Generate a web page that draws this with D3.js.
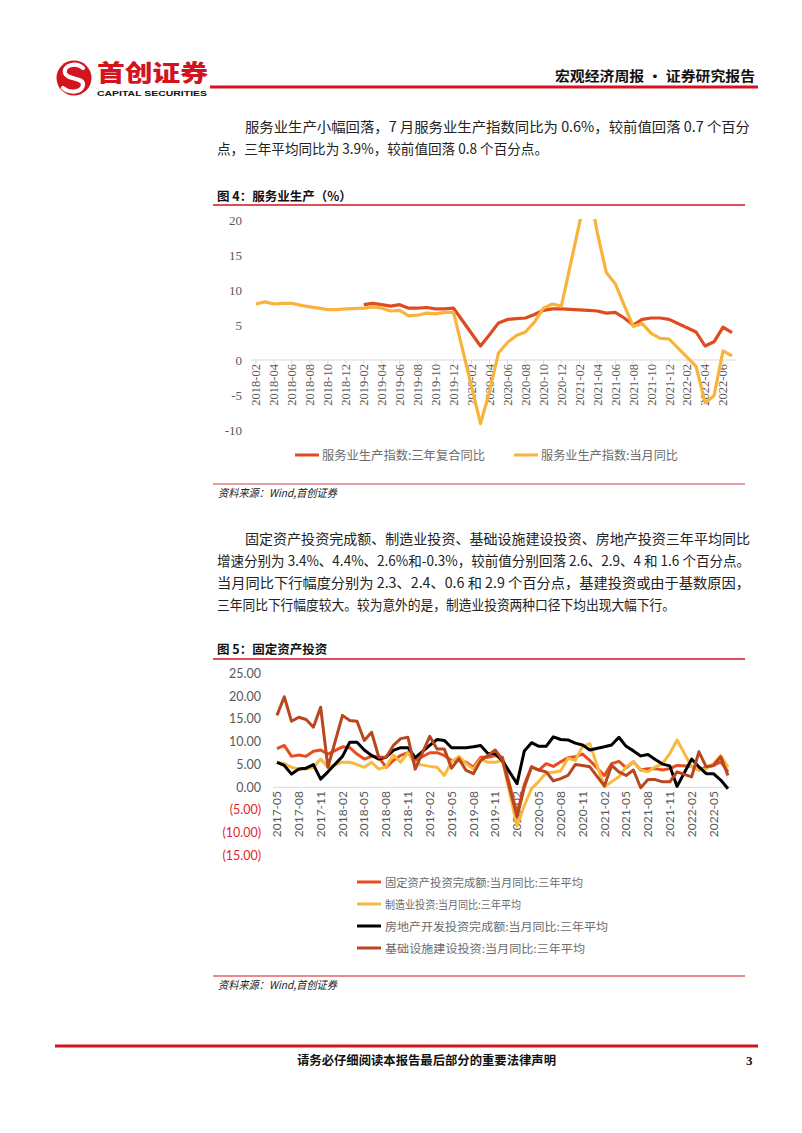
<!DOCTYPE html>
<html><head><meta charset="utf-8">
<script src="https://cdn.jsdelivr.net/npm/d3@7"></script>
<style>
html,body{margin:0;padding:0;background:#fff;}
svg{display:block;}
</style></head><body>
<svg id="page" width="802" height="1133"></svg>
<script>
// ---------------- DATA ----------------
// Figure 4: service production (%)
const svcMonths = ["2018-02","2018-03","2018-04","2018-05","2018-06","2018-07","2018-08","2018-09","2018-10","2018-11","2018-12",
"2019-01","2019-02","2019-03","2019-04","2019-05","2019-06","2019-07","2019-08","2019-09","2019-10","2019-11","2019-12",
"2020-01","2020-02","2020-03","2020-04","2020-05","2020-06","2020-07","2020-08","2020-09","2020-10","2020-11","2020-12",
"2021-01","2021-02","2021-03","2021-04","2021-05","2021-06","2021-07","2021-08","2021-09","2021-10","2021-11","2021-12",
"2022-01","2022-02","2022-03","2022-04","2022-05","2022-06","2022-07"];
const svcThreeYear = [null,null,null,null,null,null,null,null,null,null,null,
null,7.9,8.1,7.9,7.7,7.9,7.4,7.4,7.5,7.3,7.3,7.4,
null,null,2.0,3.6,5.3,5.8,5.9,6.0,6.5,7.1,7.3,7.3,
null,null,7.1,7.0,6.7,6.8,6.0,5.0,5.8,6.0,6.0,5.8,
null,null,4.0,2.0,2.6,4.7,3.9];
const svcMonthly = [8.0,8.3,8.0,8.1,8.1,7.8,7.6,7.4,7.2,7.2,7.3,
null,7.4,7.6,7.4,7.0,7.1,6.3,6.4,6.7,6.6,6.8,6.8,
null,null,-9.1,-4.5,1.0,2.5,3.5,4.0,5.4,7.4,8.0,7.7,
null,null,25.3,18.2,12.5,10.9,7.8,4.8,5.2,3.8,3.1,3.0,
null,null,-0.9,-6.1,-5.1,1.3,0.6];
const svcTicks = [20,15,10,5,0,-5,-10];
const svcLegend = ["服务业生产指数:三年复合同比","服务业生产指数:当月同比"];

// Figure 5: fixed asset investment
const faiMonths = ["2017-05","2017-06","2017-07","2017-08","2017-09","2017-10","2017-11","2017-12",
"2018-01","2018-02","2018-03","2018-04","2018-05","2018-06","2018-07","2018-08","2018-09","2018-10","2018-11","2018-12",
"2019-01","2019-02","2019-03","2019-04","2019-05","2019-06","2019-07","2019-08","2019-09","2019-10","2019-11","2019-12",
"2020-01","2020-02","2020-03","2020-04","2020-05","2020-06","2020-07","2020-08","2020-09","2020-10","2020-11","2020-12",
"2021-01","2021-02","2021-03","2021-04","2021-05","2021-06","2021-07","2021-08","2021-09","2021-10","2021-11","2021-12",
"2022-01","2022-02","2022-03","2022-04","2022-05","2022-06","2022-07"];
const faiTotal = [8.5,9.2,6.8,7.1,6.8,7.9,8.2,7.3,
null,8.9,8.7,7.3,6.2,6.8,6.6,4.4,5.9,7.0,7.6,5.9,
null,7.6,7.6,7.0,5.9,5.9,5.5,4.4,6.6,6.6,7.0,6.6,
null,-5.8,0.6,4.5,3.8,5.2,4.6,5.6,6.5,6.7,7.3,5.9,
null,2.6,5.2,5.7,4.3,5.6,3.8,4.1,4.1,3.8,4.1,4.8,
null,4.6,3.8,4.5,4.8,5.6,3.4];
const faiManufacturing = [5.5,5.2,4.4,4.0,4.0,4.4,6.2,4.4,
null,5.5,5.5,5.0,4.4,5.5,4.0,4.5,7.1,5.5,7.6,5.2,
null,4.6,4.4,2.6,5.6,6.8,5.2,4.0,6.2,5.5,5.5,5.9,
null,-8.5,-4.0,-0.3,1.3,3.2,3.3,3.6,6.4,5.9,9.0,9.6,
null,0.1,1.2,2.3,4.5,5.6,3.8,3.4,4.5,5.2,7.4,10.4,
null,4.5,3.8,4.1,5.2,7.0,4.4];
const faiRealEstate = [5.5,4.8,2.9,4.0,4.2,5.0,1.8,3.4,
null,6.8,9.9,9.9,8.2,7.0,6.2,6.6,8.1,8.7,8.7,6.5,
null,9.2,10.5,10.3,8.7,8.7,8.7,8.9,9.2,7.4,7.4,5.8,
null,0.8,8.0,9.8,9.0,9.0,11.1,10.5,10.4,9.7,9.3,8.2,
null,8.9,9.3,11.0,9.0,8.0,6.9,7.2,6.1,5.1,4.7,0.2,
null,6.2,4.5,3.0,3.0,1.6,-0.3];
const faiInfra = [15.8,19.9,14.5,15.4,14.9,13.2,17.6,4.4,
null,15.8,14.7,14.5,10.3,12.1,6.6,6.6,9.2,10.7,11.0,4.0,
null,11.2,8.4,8.4,4.2,6.3,3.7,3.0,5.9,7.0,8.2,6.0,
null,-6.5,0.0,4.5,3.8,3.4,1.4,1.9,2.6,5.0,4.8,4.5,
null,0.3,4.8,3.4,2.6,3.8,-0.1,1.7,1.7,1.2,1.2,3.4,
null,2.3,7.8,4.5,4.8,6.7,2.6];
const faiTicks = [25,20,15,10,5,0,-5,-10,-15];
const faiLegend = ["固定资产投资完成额:当月同比:三年平均","制造业投资:当月同比:三年平均","房地产开发投资完成额:当月同比:三年平均","基础设施建设投资:当月同比:三年平均"];

// ---------------- STYLE ----------------
const RED = "#d2141e";
const SERIF = "'Liberation Serif','Times New Roman',serif";
const CJK = "'Noto Sans CJK SC','Noto Sans',sans-serif";
const SANS = "Lato,'Open Sans',sans-serif";

const svg = d3.select("#page");

function txt(x, y, s, o = {}) {
  const t = svg.append("text").attr("x", x).attr("y", y).text(s)
    .attr("font-family", o.family || CJK)
    .attr("font-size", o.size || 14)
    .attr("fill", o.fill || "#222")
    .attr("font-weight", o.weight || "normal")
    .attr("text-anchor", o.anchor || "start");
  if (o.style) t.attr("font-style", o.style);
  if (o.len) t.attr("textLength", o.len).attr("lengthAdjust", "spacingAndGlyphs");
  return t;
}
function hline(x1, x2, y, color, w) {
  svg.append("line").attr("x1", x1).attr("x2", x2).attr("y1", y).attr("y2", y)
    .attr("stroke", color).attr("stroke-width", w);
}

// ---------------- HEADER ----------------
svg.append("circle").attr("cx", 74).attr("cy", 78).attr("r", 17.5).attr("fill", RED);
svg.append("path").attr("d", "M83,68 C76,62 63,65 65,73 C67,80 84,77 83,85 C82,92 70,94 63,88")
  .attr("fill", "none").attr("stroke", "#fff").attr("stroke-width", 4.2).attr("stroke-linecap", "round");
txt(97, 81, "首创证券", {size: 23, weight: 900, fill: RED, len: 111});
txt(97, 96, "CAPITAL SECURITIES", {family: "'Liberation Sans',Arial,sans-serif", size: 8, weight: "bold", fill: "#111", len: 110});
hline(210, 758, 87, RED, 3);
txt(555, 81, "宏观经济周报 · 证券研究报告", {size: 14, weight: "bold", fill: "#111", len: 200});

// ---------------- PARAGRAPH 1 ----------------
txt(245, 132, "服务业生产小幅回落，7 月服务业生产指数同比为 0.6%，较前值回落 0.7 个百分", {len: 505});
txt(217, 154, "点，三年平均同比为 3.9%，较前值回落 0.8 个百分点。", {len: 331});

// ---------------- FIGURE 4 ----------------
txt(217, 201, "图 4：服务业生产（%）", {size: 12.5, weight: "bold", fill: "#111"});
hline(213, 745, 205, RED, 1.5);

const x1 = d3.scalePoint().domain(svcMonths).range([256, 732]);
const y1 = d3.scaleLinear().domain([-10, 20]).range([430, 220]);

const g1 = svg.append("g");
svg.append("clipPath").attr("id", "clip1").append("rect")
  .attr("x", 240).attr("y", 219).attr("width", 510).attr("height", 216);

g1.selectAll("text.yl").data(svcTicks).join("text")
  .attr("x", 242).attr("y", d => y1(d)).attr("dy", "0.35em")
  .attr("text-anchor", "end").attr("font-family", SERIF).attr("font-size", 13)
  .attr("fill", "#595959").text(d => d);

g1.append("line").attr("x1", 251).attr("x2", 737).attr("y1", y1(0)).attr("y2", y1(0))
  .attr("stroke", "#d9d9d9").attr("stroke-width", 1);
const svcLabels = svcMonths.filter((d, i) => i % 2 === 0);
g1.selectAll("line.tk").data(svcLabels).join("line")
  .attr("x1", d => x1(d)).attr("x2", d => x1(d)).attr("y1", y1(0)).attr("y2", y1(0) + 4)
  .attr("stroke", "#d9d9d9");
g1.selectAll("text.xl").data(svcLabels).join("text")
  .attr("transform", d => `translate(${x1(d)},364) rotate(-90)`)
  .attr("dy", "0.35em").attr("text-anchor", "end")
  .attr("font-family", SERIF).attr("font-size", 12.5).attr("fill", "#595959").text(d => d);

function drawLine(g, xs, ys, cats, vals, color, w, clip) {
  const pts = cats.map((c, i) => [c, vals[i]]).filter(d => d[1] !== null);
  const p = g.append("path").datum(pts)
    .attr("d", d3.line().x(d => xs(d[0])).y(d => ys(d[1])))
    .attr("fill", "none").attr("stroke", color).attr("stroke-width", w)
    .attr("stroke-linejoin", "round").attr("stroke-linecap", "butt");
  if (clip) p.attr("clip-path", `url(#${clip})`);
}
const C_RED = "#e04a1f", C_ORG = "#f8b33c";
drawLine(g1, x1, y1, svcMonths, svcThreeYear, C_RED, 3.2, "clip1");
drawLine(g1, x1, y1, svcMonths, svcMonthly, C_ORG, 3.2, "clip1");

[[C_RED, 295, 322, svcLegend[0], 163], [C_ORG, 514, 541, svcLegend[1], 137]].forEach(([c, lx, tx, s, len]) => {
  hline(lx, lx + 24, 455, c, 3);
  txt(tx, 459.5, s, {family: CJK, size: 12, fill: "#6b6b6b", len: len});
});

hline(213, 745, 484, "#c9454b", 1.2);
txt(218, 497, "资料来源：Wind,首创证券", {size: 11, style: "italic", fill: "#222", len: 119});

// ---------------- PARAGRAPH 2 ----------------
txt(245, 544, "固定资产投资完成额、制造业投资、基础设施建设投资、房地产投资三年平均同比", {len: 505});
txt(217, 566, "增速分别为 3.4%、4.4%、2.6%和-0.3%，较前值分别回落 2.6、2.9、4 和 1.6 个百分点。", {len: 533});
txt(217, 588, "当月同比下行幅度分别为 2.3、2.4、0.6 和 2.9 个百分点，基建投资或由于基数原因，", {len: 533});
txt(217, 610, "三年同比下行幅度较大。较为意外的是，制造业投资两种口径下均出现大幅下行。", {len: 458});

// ---------------- FIGURE 5 ----------------
txt(217, 654, "图 5：固定资产投资", {size: 12.5, weight: "bold", fill: "#111"});
hline(213, 745, 659, RED, 1.5);

const x2 = d3.scalePoint().domain(faiMonths).range([277, 728]);
const y2 = d3.scaleLinear().domain([-15, 25]).range([855.6, 673.5]);
const g2 = svg.append("g");

g2.selectAll("text.yl").data(faiTicks).join("text")
  .attr("x", 261).attr("y", d => y2(d)).attr("dy", "0.35em")
  .attr("text-anchor", "end").attr("font-family", SANS).attr("font-size", 12.5)
  .attr("fill", d => d < 0 ? "#e3262f" : "#595959")
  .text(d => d < 0 ? `(${Math.abs(d).toFixed(2)})` : d.toFixed(2));

g2.append("line").attr("x1", 273).attr("x2", 732).attr("y1", y2(0)).attr("y2", y2(0))
  .attr("stroke", "#d9d9d9").attr("stroke-width", 1);
const faiLabels = faiMonths.filter((d, i) => i % 3 === 0);
g2.selectAll("text.xl").data(faiLabels).join("text")
  .attr("transform", d => `translate(${x2(d)},791) rotate(-90)`)
  .attr("dy", "0.35em").attr("text-anchor", "end")
  .attr("font-family", SANS).attr("font-size", 12).attr("fill", "#595959").text(d => d);

const C_FAI = "#e84d1e", C_MFG = "#f9b93f", C_RE = "#000000", C_INF = "#b8461f";
drawLine(g2, x2, y2, faiMonths, faiTotal, C_FAI, 3);
drawLine(g2, x2, y2, faiMonths, faiManufacturing, C_MFG, 3);
drawLine(g2, x2, y2, faiMonths, faiRealEstate, C_RE, 3);
drawLine(g2, x2, y2, faiMonths, faiInfra, C_INF, 3);

const lg2 = [[C_FAI, 198], [C_MFG, 136], [C_RE, 223], [C_INF, 200]];
lg2.forEach(([c, len], i) => {
  const yy = 882 + i * 22;
  hline(357, 381, yy, c, 3);
  txt(385, yy + 4.5, faiLegend[i], {family: CJK, size: 11.5, fill: "#6b6b6b", len: len});
});

hline(213, 745, 976, RED, 1.2);
txt(218, 989, "资料来源：Wind,首创证券", {size: 11, style: "italic", fill: "#222", len: 119});

// ---------------- FOOTER ----------------
hline(55, 758, 1046, RED, 3);
txt(297, 1065, "请务必仔细阅读本报告最后部分的重要法律声明", {size: 12.5, weight: "bold", fill: "#111", len: 259});
txt(746, 1065, "3", {family: SERIF, size: 13, weight: "bold", fill: "#111"});
</script>
</body></html>
